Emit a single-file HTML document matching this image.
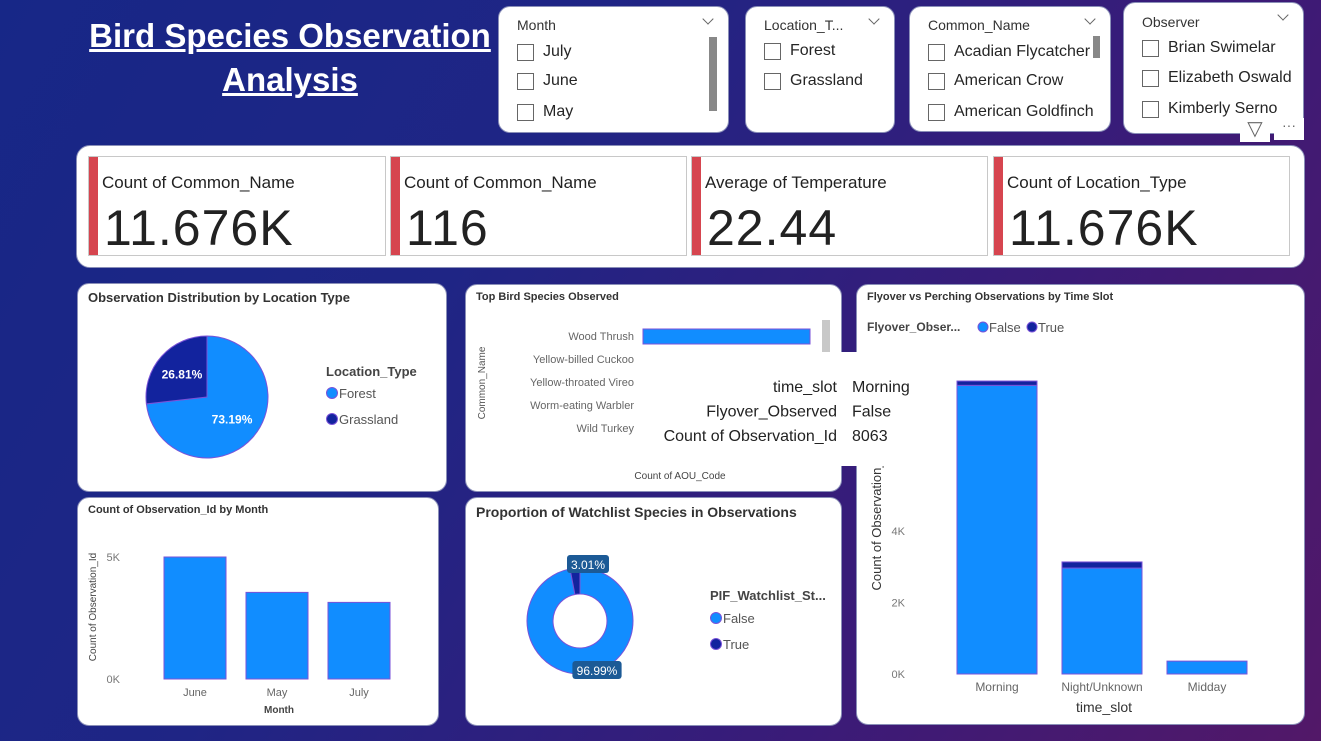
<!DOCTYPE html>
<html><head><meta charset="utf-8">
<style>
*{box-sizing:border-box;margin:0;padding:0}
body{width:1321px;height:741px;overflow:hidden;position:relative;font-family:"Liberation Sans",sans-serif;background:linear-gradient(120deg,#172787 0%,#1f2585 35%,#3a1b78 70%,#521868 100%)}
.abs{position:absolute}
.card{position:absolute;background:#fff;border-radius:12px;border:1px solid #8a8fb8}
.title{font-family:"Liberation Sans Narrow","Liberation Sans",sans-serif;font-weight:bold;color:#fff;text-decoration:underline;font-size:33px;text-align:center;line-height:44px}
.sl-h{font-size:14px;color:#333;position:absolute;left:18px;top:10px;font-family:"Liberation Sans Narrow","Liberation Sans",sans-serif}
.chev{position:absolute;right:16px;top:8px;width:8px;height:8px;border-right:1px solid #666;border-bottom:1px solid #666;transform:rotate(45deg)}
.item{position:absolute;left:18px;font-size:16px;color:#252525;display:flex;align-items:center;white-space:nowrap}
.item i{display:inline-block;width:17px;height:17px;border:1px solid #666;margin-right:9px}
.kpi{position:absolute;top:156px;height:100px;border:1px solid #c8c8c8;background:#fff}
.kpi .bar{position:absolute;left:0;top:0;bottom:0;width:9px;background:#d6454f}
.kpi .lab{position:absolute;left:13px;top:16px;font-size:17px;color:#222}
.kpi .val{position:absolute;left:15px;top:42px;font-size:50px;color:#222;letter-spacing:1px}
.ptitle{position:absolute;left:10px;top:6px;font-size:13px;color:#333;font-family:"Liberation Sans Narrow","Liberation Sans",sans-serif;font-weight:bold}
svg text{font-family:"Liberation Sans",sans-serif}
</style></head><body>

<div class="abs title" style="left:80px;top:14px;width:420px">Bird Species Observation <br>Analysis</div>

<div class="card" style="left:498px;top:6px;width:231px;height:127px">
 <div class="sl-h">Month</div><div class="chev"></div>
 <div class="item" style="top:36px"><i></i>July</div>
 <div class="item" style="top:65px"><i></i>June</div>
 <div class="item" style="top:96px"><i></i>May</div>
 <div class="abs" style="left:210px;top:30px;width:8px;height:74px;background:#888"></div>
</div>
<div class="card" style="left:745px;top:6px;width:150px;height:127px">
 <div class="sl-h">Location_T...</div><div class="chev"></div>
 <div class="item" style="top:35px"><i></i>Forest</div>
 <div class="item" style="top:65px"><i></i>Grassland</div>
</div>
<div class="card" style="left:909px;top:6px;width:202px;height:126px">
 <div class="sl-h">Common_Name</div><div class="chev"></div>
 <div class="item" style="top:36px"><i></i>Acadian Flycatcher</div>
 <div class="item" style="top:65px"><i></i>American Crow</div>
 <div class="item" style="top:96px"><i></i>American Goldfinch</div>
 <div class="abs" style="left:183px;top:29px;width:7px;height:22px;background:#888"></div>
</div>
<div class="card" style="left:1123px;top:2px;width:181px;height:132px">
 <div class="sl-h" style="top:11px">Observer</div><div class="chev"></div>
 <div class="item" style="top:36px"><i></i>Brian Swimelar</div>
 <div class="item" style="top:66px"><i></i>Elizabeth Oswald</div>
 <div class="item" style="top:97px"><i></i>Kimberly Serno</div>
</div>
<div class="abs" style="left:1240px;top:118px;width:30px;height:24px;background:#fff;color:#666;font-size:20px;text-align:center;line-height:22px">&#9661;</div>
<div class="abs" style="left:1274px;top:118px;width:30px;height:22px;background:#fff;color:#666;font-size:14px;text-align:center;line-height:14px">···</div>

<div class="card" style="left:76px;top:145px;width:1229px;height:123px;border-radius:14px"></div>
<div class="kpi" style="left:88px;width:298px"><div class="bar"></div><div class="lab">Count of Common_Name</div><div class="val">11.676K</div></div>
<div class="kpi" style="left:390px;width:297px"><div class="bar"></div><div class="lab">Count of Common_Name</div><div class="val">116</div></div>
<div class="kpi" style="left:691px;width:297px"><div class="bar"></div><div class="lab">Average of Temperature</div><div class="val">22.44</div></div>
<div class="kpi" style="left:993px;width:297px"><div class="bar"></div><div class="lab">Count of Location_Type</div><div class="val">11.676K</div></div>

<div class="card" style="left:77px;top:283px;width:370px;height:209px"><div class="ptitle">Observation Distribution by Location Type</div></div>
<div class="card" style="left:465px;top:284px;width:377px;height:208px"><div class="ptitle" style="font-size:11px">Top Bird Species Observed</div></div>
<div class="card" style="left:856px;top:284px;width:449px;height:441px"><div class="ptitle" style="font-size:11px">Flyover vs Perching Observations by Time Slot</div></div>
<div class="card" style="left:77px;top:497px;width:362px;height:229px"><div class="ptitle" style="font-size:11px">Count of Observation_Id by Month</div></div>
<div class="card" style="left:465px;top:497px;width:377px;height:229px"><div class="ptitle" style="font-size:14px">Proportion of Watchlist Species in Observations</div></div>

<svg id="svg" class="abs" style="left:0;top:0" width="1321" height="741"></svg>

<script>
// Location pie
const pieCats=["Forest","Grassland"];
const pieVals=[73.19,26.81];
// Watchlist donut
const donutCats=["False","True"];
const donutVals=[96.99,3.01];
// Month chart
const monthCats=["June","May","July"];
const monthVals=[5000,3550,3140];
const monthTicks=[0,5000];
const monthTickLabels=["0K","5K"];
// Top species
const speciesCats=["Wood Thrush","Yellow-billed Cuckoo","Yellow-throated Vireo","Worm-eating Warbler","Wild Turkey"];
const speciesVals=[167,90,0,0,0];
// Flyover
const slotCats=["Morning","Night/Unknown","Midday"];
const flyFalse=[8063,2960,360];
const flyTrue=[120,170,0];
const flyTicks=[0,2000,4000];
const flyTickLabels=["0K","2K","4K"];

const NS="http://www.w3.org/2000/svg";
const svg=document.getElementById('svg');
function mk(tag,attrs,parent){const e=document.createElementNS(NS,tag);for(const k in attrs)e.setAttribute(k,attrs[k]);(parent||svg).appendChild(e);return e;}
function tx(x,y,s,attrs){const e=mk('text',Object.assign({x:x,y:y},attrs));e.textContent=s;return e;}
const C1="#118dff",C2="#12239e",STROKE="#7a52d8";

function arcPath(cx,cy,r,ri,a0,a1){
  const p=(a,rr)=>[cx+rr*Math.sin(a),cy-rr*Math.cos(a)];
  const large=(a1-a0)>Math.PI?1:0;
  const [x0,y0]=p(a0,r),[x1,y1]=p(a1,r);
  if(ri===0)return `M${cx},${cy}L${x0},${y0}A${r},${r} 0 ${large} 1 ${x1},${y1}Z`;
  const [x2,y2]=p(a1,ri),[x3,y3]=p(a0,ri);
  return `M${x0},${y0}A${r},${r} 0 ${large} 1 ${x1},${y1}L${x2},${y2}A${ri},${ri} 0 ${large} 0 ${x3},${y3}Z`;
}
// Pie
(function(){
  const cx=207,cy=397,r=61,tot=pieVals.reduce((a,b)=>a+b,0);let a=0;
  pieVals.forEach((v,i)=>{const a1=a+v/tot*2*Math.PI;
    const el=mk('path',{d:arcPath(cx,cy,r,0,a,a1),fill:i?C2:C1,stroke:STROKE,'stroke-width':1});
    
    
    const m=(a+a1)/2;const t=tx(cx+r*0.55*Math.sin(m),cy-r*0.55*Math.cos(m)+4,v.toFixed(2)+"%",{fill:"#fff","font-size":12,"text-anchor":"middle","font-weight":"bold"});
    
    
    a=a1;});
  const lt=tx(326,376,"Location_Type",{fill:"#444","font-size":13,"font-weight":"bold"});
  
  pieCats.forEach((c,i)=>{const y=393+i*26;
    const g=mk('g',{});
    mk('circle',{cx:332,cy:y,r:5.5,fill:i?C2:C1,stroke:STROKE},g);
    const t=tx(339,y+5,c,{fill:"#555","font-size":13});g.appendChild(t);});
})();
// Donut
(function(){
  const cx=580,cy=621,r=53,ri=27,tot=donutVals.reduce((a,b)=>a+b,0);let a=0;
  donutVals.forEach((v,i)=>{const a1=a+v/tot*2*Math.PI;
    const el=mk('path',{d:arcPath(cx,cy,r,ri,a,a1),fill:i?C2:C1,stroke:STROKE,'stroke-width':1});
    
    
    a=a1;});
  const labs=[[597,673],[588,567]];
  donutVals.forEach((v,i)=>{const s=v.toFixed(2)+"%";const w=s.length*7.2+6;
    const g=mk('g',{});
    mk('rect',{x:labs[i][0]-w/2,y:labs[i][1]-12,width:w,height:18,rx:3,fill:"#1c5a96"},g);
    g.appendChild(tx(labs[i][0],labs[i][1]+2,s,{fill:"#fff","font-size":12,"text-anchor":"middle"}));});
  const lt=tx(710,600,"PIF_Watchlist_St...",{fill:"#444","font-size":13,"font-weight":"bold"});
  
  donutCats.forEach((c,i)=>{const y=618+i*26;
    const g=mk('g',{});
    mk('circle',{cx:716,cy:y,r:5.5,fill:i?C2:C1,stroke:STROKE},g);
    g.appendChild(tx(723,y+5,c,{fill:"#555","font-size":13}));});
})();
// Month chart
(function(){
  const y0=679,ymax=5000,h=122,bx=[164,246,328],bw=62;
  const Y=v=>y0-v/ymax*h;
  monthTicks.forEach((t,i)=>{const e=tx(120,Y(t)+4,monthTickLabels[i],{fill:"#777","font-size":11,"text-anchor":"end"});
    });
  monthVals.forEach((v,i)=>{const r=mk('rect',{x:bx[i],y:Y(v),width:bw,height:y0-Y(v),fill:C1,stroke:STROKE,'stroke-width':1});
    
    const t=tx(bx[i]+bw/2,696,monthCats[i],{fill:"#666","font-size":11,"text-anchor":"middle"});
    });
  const xt=tx(279,713,"Month",{fill:"#444","font-size":10,"text-anchor":"middle","font-weight":"bold"});
  
  const yt=tx(0,0,"Count of Observation_Id",{fill:"#444","font-size":10,"text-anchor":"middle",transform:"translate(96,607) rotate(-90)"});
  
})();
// Top species
(function(){
  const x0=643,scale=1,ys=[336,359,382,405,428];
  speciesCats.forEach((c,i)=>{const t=tx(634,ys[i]+4,c,{fill:"#666","font-size":11,"text-anchor":"end"});
    });
  speciesVals.forEach((v,i)=>{if(!v)return;const r=mk('rect',{x:x0,y:ys[i]-7,width:v*scale,height:i?2:15,fill:C1,stroke:STROKE,'stroke-width':i?0:1});
    });
  const sb=mk('rect',{x:822,y:320,width:8,height:32,fill:"#c8c8c8"});
  const yt=tx(0,0,"Common_Name",{fill:"#555","font-size":10,"text-anchor":"middle",transform:"translate(485,383) rotate(-90)"});
  
  const xt=tx(680,479,"Count of AOU_Code",{fill:"#444","font-size":10,"text-anchor":"middle"});
  
})();
// Flyover stacked
(function(){
  const y0=674,ppk=35.8/1000,bx=[957,1062,1167],bw=80;
  const Y=v=>y0-v*ppk;
  flyTicks.forEach((t,i)=>{const e=tx(905,Y(t)+4,flyTickLabels[i],{fill:"#777","font-size":11,"text-anchor":"end"});
    });
  slotCats.forEach((c,i)=>{
    const r=mk('rect',{x:bx[i],y:Y(flyFalse[i]),width:bw,height:y0-Y(flyFalse[i]),fill:C1,stroke:STROKE,'stroke-width':1});
    
    if(flyTrue[i]){const r2=mk('rect',{x:bx[i],y:Y(flyFalse[i]+flyTrue[i]),width:bw,height:flyTrue[i]*ppk,fill:C2,stroke:STROKE,'stroke-width':1});
      }
    const t=tx(bx[i]+bw/2,691,c,{fill:"#666","font-size":12,"text-anchor":"middle"});
    });
  const xt=tx(1104,712,"time_slot",{fill:"#333","font-size":14,"text-anchor":"middle"});
  
  const yt=tx(0,0,"Count of Observation_Id",{fill:"#333","font-size":13,"text-anchor":"middle",transform:"translate(881,520) rotate(-90)"});
  
  const lt=tx(867,331,"Flyover_Obser...",{fill:"#444","font-size":12,"font-weight":"bold"});
  
  ["False","True"].forEach((c,i)=>{const x=983+i*49;
    const g=mk('g',{});
    mk('circle',{cx:x,cy:327,r:5,fill:i?C2:C1,stroke:STROKE},g);
    g.appendChild(tx(x+6,332,c,{fill:"#555","font-size":13}));});
  // tooltip
  const g=mk('g',{});
  mk('rect',{x:642,y:352,width:243,height:114,fill:"#fff"},g);
  [["time_slot","Morning"],["Flyover_Observed","False"],["Count of Observation_Id",String(flyFalse[0])]].forEach((r,i)=>{
    g.appendChild(tx(837,392+i*24.5,r[0],{fill:"#222","font-size":16,"text-anchor":"end"}));
    g.appendChild(tx(852,392+i*24.5,r[1],{fill:"#222","font-size":16}));});
})();
</script>
</body></html>
